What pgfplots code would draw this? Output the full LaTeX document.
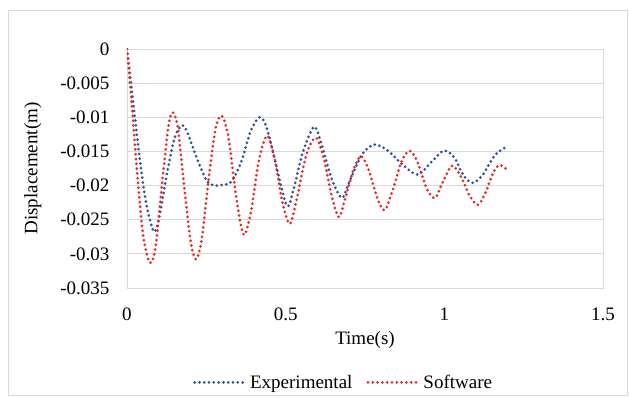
\documentclass[border=0pt]{standalone}
\usepackage{pgfplots}
\pgfplotsset{compat=1.18}
\usepackage{fontspec}
\setmainfont{Liberation Serif}
\definecolor{expblue}{RGB}{47,80,150}
\definecolor{swred}{RGB}{232,40,40}
\definecolor{gridc}{RGB}{217,217,217}
\begin{document}
\begin{tikzpicture}
\useasboundingbox (-127pt,-110pt) rectangle (502pt,288pt);
\draw[gridc, line width=0.8pt] (-119pt,-107pt) rectangle (500pt,278pt);
\begin{axis}[
  scale only axis, width=476pt, height=239pt,
  xmin=0, xmax=1.5, ymin=-0.035, ymax=0,
  xtick={0,0.5,1,1.5}, ytick={-0.035,-0.03,...,0.001},
  axis line style={gridc, line width=0.8pt},
  ymajorgrids, major grid style={gridc, line width=0.8pt},
  tick style={draw=none},
  /pgf/number format/assume math mode=true,
  /pgf/number format/fixed,
  /pgf/number format/precision=3,
  scaled y ticks=false,
  ticklabel style={font=\fontsize{19}{22}\selectfont},
  yticklabel style={xshift=-14pt},
  xticklabel style={yshift=-16pt},
  xlabel={Time(s)}, ylabel={Displacement(m)},
  label style={font=\fontsize{19}{22}\selectfont},
  xlabel style={yshift=-4pt},
  ylabel style={yshift=12pt},
  legend style={at={(0.455,-0.395)}, anchor=center, draw=none, legend columns=2,
    font=\fontsize{19}{22}\selectfont, /tikz/every even column/.append style={column sep=12pt}},
  legend image code/.code={\draw[#1] (0pt,0pt) -- (52pt,0pt);},
]
\addplot[expblue, line width=3pt, line cap=round, dash pattern=on 0pt off 4.8pt, smooth, tension=0.5] coordinates {
(0,0) (0.02,-0.008) (0.04,-0.016) (0.06,-0.0225) (0.084,-0.0267) (0.10,-0.025)
(0.125,-0.0185) (0.15,-0.013) (0.173,-0.0112) (0.19,-0.0122) (0.22,-0.016)
(0.25,-0.0192) (0.274,-0.0200) (0.30,-0.0199) (0.33,-0.0194) (0.36,-0.0165)
(0.39,-0.012) (0.418,-0.0100) (0.44,-0.0115) (0.47,-0.017) (0.504,-0.0230)
(0.525,-0.0205) (0.555,-0.015) (0.589,-0.0114) (0.61,-0.0135) (0.645,-0.019)
(0.677,-0.0218) (0.70,-0.0195) (0.74,-0.0155) (0.778,-0.0140) (0.82,-0.0148)
(0.87,-0.0170) (0.916,-0.0184) (0.96,-0.0165) (0.998,-0.0149) (1.03,-0.0158)
(1.06,-0.0185) (1.089,-0.0196) (1.12,-0.0185) (1.16,-0.0155) (1.194,-0.0144)
};
\addlegendentry{Experimental}
\addplot[swred, line width=3pt, line cap=round, dash pattern=on 0pt off 4.8pt, smooth, tension=0.5] coordinates {
(0,0) (0.015,-0.008) (0.03,-0.017) (0.05,-0.027) (0.072,-0.0313) (0.09,-0.029)
(0.11,-0.020) (0.13,-0.0115) (0.144,-0.0093) (0.16,-0.0115) (0.18,-0.020)
(0.20,-0.028) (0.217,-0.0308) (0.235,-0.028) (0.26,-0.018) (0.28,-0.0115)
(0.299,-0.0098) (0.32,-0.013) (0.345,-0.022) (0.368,-0.0272) (0.39,-0.024)
(0.415,-0.0165) (0.441,-0.0127) (0.465,-0.016) (0.49,-0.0225) (0.513,-0.0256)
(0.535,-0.022) (0.565,-0.0155) (0.595,-0.0130) (0.62,-0.016) (0.645,-0.0215)
(0.668,-0.0246) (0.69,-0.0215) (0.715,-0.0175) (0.737,-0.0157) (0.76,-0.0175)
(0.79,-0.0220) (0.812,-0.0236) (0.835,-0.021) (0.865,-0.0165) (0.891,-0.0149)
(0.915,-0.0165) (0.945,-0.0205) (0.971,-0.0218) (0.995,-0.0195) (1.024,-0.0171)
(1.05,-0.0185) (1.08,-0.0215) (1.106,-0.0228) (1.13,-0.021) (1.155,-0.018)
(1.175,-0.0170) (1.198,-0.0177)
};
\addlegendentry{Software}
\end{axis}
\end{tikzpicture}
\end{document}
